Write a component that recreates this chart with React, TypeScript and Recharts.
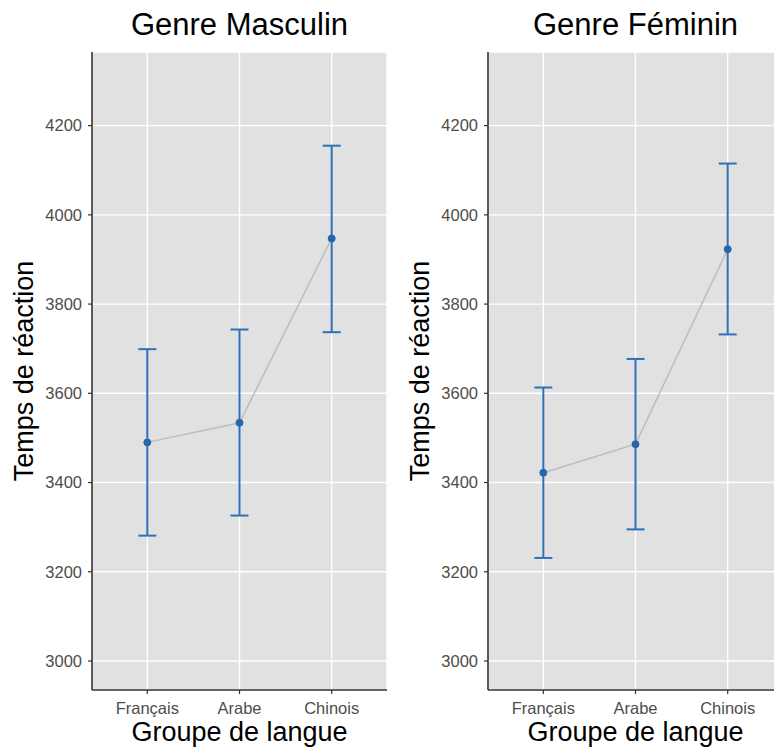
import React from 'react';
import { LineChart, Line, XAxis, YAxis, CartesianGrid, ErrorBar } from 'recharts';

const categories = ['Français', 'Arabe', 'Chinois'];
const masculinMean = [3490, 3534, 3947];
const masculinLow = [3281, 3326, 3737];
const masculinHigh = [3699, 3743, 4155];
const femininMean = [3422, 3486, 3923];
const femininLow = [3231, 3295, 3732];
const femininHigh = [3613, 3677, 4115];
const yTicks = [3000, 3200, 3400, 3600, 3800, 4000, 4200];
const xTicks = [1, 2, 3];

const FONT = '"Liberation Sans", Arial, Helvetica, sans-serif';

function buildRows(mean: number[], low: number[], high: number[]) {
  return categories.map((c, i) => ({
    x: i + 1,
    cat: c,
    mean: mean[i],
    err: [mean[i] - low[i], high[i] - mean[i]],
  }));
}

const masculinRows = buildRows(masculinMean, masculinLow, masculinHigh);
const femininRows = buildRows(femininMean, femininLow, femininHigh);

function Panel({ data, left }: { data: any[]; left: number }) {
  return (
    <div style={{ position: 'absolute', left, top: 0 }}>
      <LineChart
        width={390}
        height={749}
        data={data}
        margin={{ top: 52, right: 3, bottom: 0, left: 0 }}
      >
        <CartesianGrid
          fill="#E1E1E1"
          fillOpacity={1}
          stroke="#FFFFFF"
          strokeWidth={1.4}
        />
        <XAxis
          dataKey="x"
          type="number"
          domain={[0.4, 3.6]}
          ticks={xTicks}
          allowDataOverflow
          height={59}
          tickFormatter={(v: number) => categories[v - 1]}
          axisLine={{ stroke: '#333333', strokeWidth: 1.6 }}
          tickLine={{ stroke: '#333333', strokeWidth: 1.2 }}
          tickSize={4}
          tickMargin={8}
          tick={{ fill: '#4D4D4D', fontSize: 16.5, fontFamily: FONT }}
        />
        <YAxis
          type="number"
          domain={[2935, 4365]}
          ticks={yTicks}
          allowDataOverflow
          width={92}
          axisLine={{ stroke: '#333333', strokeWidth: 1.6 }}
          tickLine={{ stroke: '#333333', strokeWidth: 1.2 }}
          tickSize={4}
          tickMargin={6}
          tick={{ fill: '#4D4D4D', fontSize: 16.5, fontFamily: FONT }}
        />
        <Line
          dataKey="mean"
          type="linear"
          stroke="#BDBDBD"
          strokeWidth={1.5}
          dot={{ r: 3.5, fill: '#2467AF', stroke: '#2467AF', strokeWidth: 1 }}
          isAnimationActive={false}
        >
          <ErrorBar
            dataKey="err"
            direction="y"
            width={9}
            stroke="#2F70B8"
            strokeWidth={2}
            isAnimationActive={false}
          />
        </Line>
      </LineChart>
    </div>
  );
}

export default function App() {
  return (
    <div
      style={{
        position: 'absolute',
        left: 0,
        top: 0,
        width: 774,
        height: 749,
        overflow: 'hidden',
        background: '#FFFFFF',
        fontFamily: FONT,
      }}
    >
      <Panel data={masculinRows} left={0} />
      <Panel data={femininRows} left={396} />
      <svg
        width={774}
        height={749}
        style={{ position: 'absolute', left: 0, top: 0, pointerEvents: 'none' }}
      >
        <g fontFamily={FONT} fill="#000000">
          <text x={239.5} y={35} fontSize={31} textAnchor="middle">Genre Masculin</text>
          <text x={635.5} y={35} fontSize={31} textAnchor="middle">Genre Féminin</text>
          <text x={239.5} y={741} fontSize={27} textAnchor="middle">Groupe de langue</text>
          <text x={635.5} y={741} fontSize={27} textAnchor="middle">Groupe de langue</text>
          <text x={33} y={371} fontSize={27} textAnchor="middle" transform="rotate(-90 33 371)">Temps de réaction</text>
          <text x={429} y={371} fontSize={27} textAnchor="middle" transform="rotate(-90 429 371)">Temps de réaction</text>
        </g>
      </svg>
    </div>
  );
}
